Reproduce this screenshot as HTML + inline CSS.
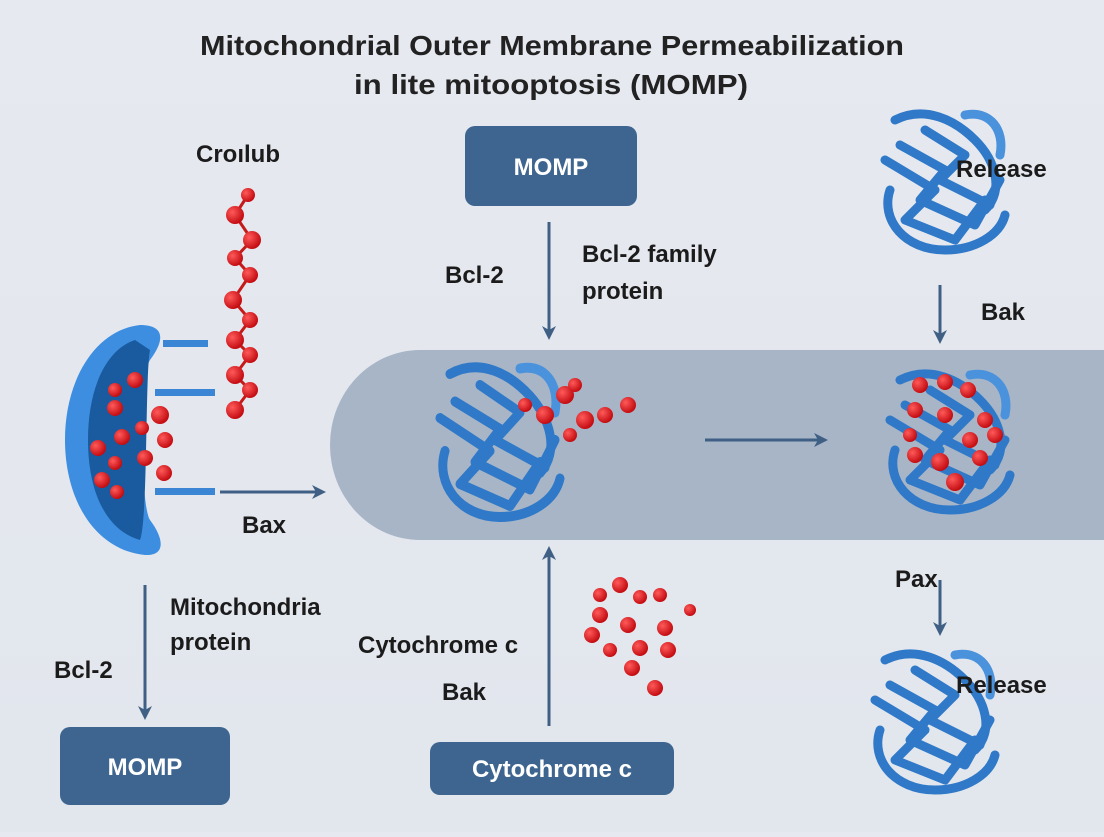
<!DOCTYPE html>
<html><head><meta charset="utf-8"><style>
html,body{margin:0;padding:0}
body{width:1104px;height:832px;overflow:hidden;background:linear-gradient(180deg,#e6e9ef,#e2e6ed);font-family:"Liberation Sans",sans-serif}
</style></head><body>
<svg width="1104" height="832" viewBox="0 0 1104 832" xmlns="http://www.w3.org/2000/svg" font-family="Liberation Sans, sans-serif">
<defs>
<marker id="ah" markerWidth="14" markerHeight="14" refX="10" refY="7" orient="auto" markerUnits="userSpaceOnUse"><path d="M0,0 L14,7 L0,14 L4,7z" fill="#3f5f85"/></marker>
<radialGradient id="rb" cx="35%" cy="35%" r="65%"><stop offset="0" stop-color="#ff5a5a"/><stop offset="1" stop-color="#c40d12"/></radialGradient>
<g id="prot" fill="none" stroke="#2f79c8" stroke-width="9" stroke-linejoin="round" stroke-linecap="round">
<path d="M-50,-60 C-20,-75 10,-60 30,-40 C50,-20 60,10 40,30"/>
<path d="M-60,-20 L-10,10 L-40,40 L10,60 L40,20"/>
<path d="M-45,-35 L0,-10 L-25,20 L30,45 L55,0"/>
<path d="M-20,-50 L20,-25 L-5,0 L45,25"/>
<path d="M-55,10 C-65,40 -40,70 0,70 C30,70 55,55 60,35"/>
<path d="M20,-65 C45,-70 60,-50 55,-25" stroke="#4a92dc"/>
</g>
</defs>
<text x="200" y="55" textLength="704" lengthAdjust="spacingAndGlyphs" font-size="28" font-weight="bold" fill="#222">Mitochondrial Outer Membrane Permeabilization</text>
<text x="354" y="94" textLength="394" lengthAdjust="spacingAndGlyphs" font-size="28" font-weight="bold" fill="#222">in lite mitooptosis (MOMP)</text>
<path d="M420,350 H1104 V540 H420 A90,95 0 0 1 330,445 A90,95 0 0 1 420,350z" fill="#a7b5c7"/>
<rect x="465" y="126" width="172" height="80" rx="10" fill="#3d6590"/>
<text x="551" y="175" text-anchor="middle" font-size="24" font-weight="bold" fill="#fff">MOMP</text>
<rect x="60" y="727" width="170" height="78" rx="10" fill="#3d6590"/>
<text x="145" y="775" text-anchor="middle" font-size="24" font-weight="bold" fill="#fff">MOMP</text>
<rect x="430" y="742" width="244" height="53" rx="10" fill="#3d6590"/>
<text x="552" y="777" text-anchor="middle" font-size="24" font-weight="bold" fill="#fff">Cytochrome c</text>
<g stroke="#3f5f85" stroke-width="3" marker-end="url(#ah)">
<line x1="549" y1="222" x2="549" y2="336"/>
<line x1="940" y1="285" x2="940" y2="340"/>
<line x1="145" y1="585" x2="145" y2="716"/>
<line x1="549" y1="726" x2="549" y2="550"/>
<line x1="940" y1="580" x2="940" y2="632"/>
<line x1="705" y1="440" x2="824" y2="440"/>
<line x1="220" y1="492" x2="322" y2="492"/>
</g>
<path d="M140,325 C95,330 65,380 65,440 C65,500 95,550 145,555 C165,556 165,540 150,520 C140,505 140,375 150,360 C165,340 165,325 140,325z" fill="#3d8ee0"/>
<path d="M135,340 C105,350 88,390 88,440 C88,490 105,530 140,540 C148,520 145,375 150,350z" fill="#1a5a9e"/>
<g fill="#3a86d4"><rect x="163" y="340" width="45" height="7"/><rect x="155" y="389" width="60" height="7"/><rect x="155" y="488" width="60" height="7"/></g>
<g fill="url(#rb)"><circle cx="135" cy="380" r="8"/><circle cx="115" cy="390" r="7"/><circle cx="115" cy="408" r="8"/><circle cx="160" cy="415" r="9"/><circle cx="142" cy="428" r="7"/><circle cx="98" cy="448" r="8"/><circle cx="122" cy="437" r="8"/><circle cx="145" cy="458" r="8"/><circle cx="165" cy="440" r="8"/><circle cx="115" cy="463" r="7"/><circle cx="102" cy="480" r="8"/><circle cx="164" cy="473" r="8"/><circle cx="117" cy="492" r="7"/></g>
<g stroke="#c41a1a" stroke-width="3"><polyline points="248,195 235,215 252,240 235,258 250,275 233,300 250,320 235,340 250,355 235,375 250,390 235,410" fill="none"/></g>
<g fill="url(#rb)"><circle cx="248" cy="195" r="7"/><circle cx="235" cy="215" r="9"/><circle cx="252" cy="240" r="9"/><circle cx="235" cy="258" r="8"/><circle cx="250" cy="275" r="8"/><circle cx="233" cy="300" r="9"/><circle cx="250" cy="320" r="8"/><circle cx="235" cy="340" r="9"/><circle cx="250" cy="355" r="8"/><circle cx="235" cy="375" r="9"/><circle cx="250" cy="390" r="8"/><circle cx="235" cy="410" r="9"/></g>
<use href="#prot" transform="translate(945,180)"/>
<use href="#prot" transform="translate(500,440) scale(1.0,1.1)"/>
<use href="#prot" transform="translate(950,440)"/>
<use href="#prot" transform="translate(935,720)"/>
<g fill="url(#rb)"><circle cx="545" cy="415" r="9"/><circle cx="565" cy="395" r="9"/><circle cx="585" cy="420" r="9"/><circle cx="575" cy="385" r="7"/><circle cx="605" cy="415" r="8"/><circle cx="628" cy="405" r="8"/><circle cx="570" cy="435" r="7"/><circle cx="525" cy="405" r="7"/></g>
<g fill="url(#rb)"><circle cx="920" cy="385" r="8"/><circle cx="945" cy="382" r="8"/><circle cx="968" cy="390" r="8"/><circle cx="915" cy="410" r="8"/><circle cx="985" cy="420" r="8"/><circle cx="945" cy="415" r="8"/><circle cx="910" cy="435" r="7"/><circle cx="995" cy="435" r="8"/><circle cx="970" cy="440" r="8"/><circle cx="915" cy="455" r="8"/><circle cx="940" cy="462" r="9"/><circle cx="980" cy="458" r="8"/><circle cx="955" cy="482" r="9"/></g>
<g fill="url(#rb)"><circle cx="600" cy="595" r="7"/><circle cx="620" cy="585" r="8"/><circle cx="640" cy="597" r="7"/><circle cx="660" cy="595" r="7"/><circle cx="600" cy="615" r="8"/><circle cx="628" cy="625" r="8"/><circle cx="665" cy="628" r="8"/><circle cx="592" cy="635" r="8"/><circle cx="610" cy="650" r="7"/><circle cx="640" cy="648" r="8"/><circle cx="668" cy="650" r="8"/><circle cx="632" cy="668" r="8"/><circle cx="655" cy="688" r="8"/><circle cx="690" cy="610" r="6"/></g>
<g font-size="24" font-weight="bold" fill="#1b1b1b">
<text x="196" y="162">Croılub</text>
<text x="445" y="283">Bcl-2</text>
<text x="582" y="262">Bcl-2 family</text>
<text x="582" y="299">protein</text>
<text x="956" y="177">Release</text>
<text x="981" y="320">Bak</text>
<text x="242" y="533">Bax</text>
<text x="170" y="615">Mitochondria</text>
<text x="170" y="650">protein</text>
<text x="54" y="678">Bcl-2</text>
<text x="358" y="653">Cytochrome c</text>
<text x="442" y="700">Bak</text>
<text x="895" y="587">Pax</text>
<text x="956" y="693">Release</text>
</g>
</svg>
</body></html>
